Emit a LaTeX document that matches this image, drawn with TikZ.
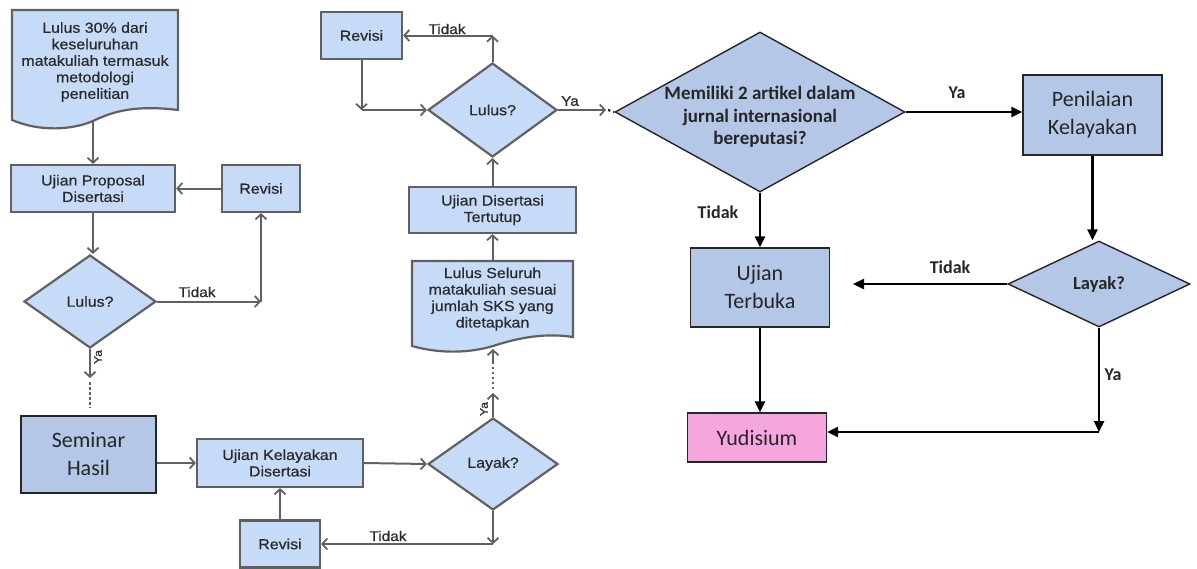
\documentclass[tikz,border=0pt]{standalone}
\usepackage{fontspec}
\setmainfont{Liberation Sans}
\newfontfamily\lf[FakeStretch=1.1,FakeBold=0.6]{Liberation Sans}
\newfontfamily\rf{Carlito}
\usetikzlibrary{shapes.geometric,arrows.meta,calc}
\definecolor{lfill}{HTML}{C6DBF7}
\definecolor{ldraw}{HTML}{616161}
\definecolor{ltext}{HTML}{2A2A2A}
\definecolor{rfill}{HTML}{B4C7E7}
\definecolor{rdraw}{HTML}{262626}
\definecolor{pinkfill}{HTML}{F5A6DF}
\tikzset{
  ltxt/.style={inner sep=0pt, text=ltext, font=\lf\fontsize{14.5}{16.5}\selectfont, align=center},
  lbox/.style={ltxt, draw=ldraw, fill=lfill, line width=2.2pt},
  ldia/.style={lbox, diamond, aspect=1.4},
  rbox/.style={draw=rdraw, fill=rfill, line width=1.4pt, inner sep=0pt, text=rdraw, font=\rf\fontsize{22}{28}\selectfont, align=center},
  rdia/.style={rbox, diamond, font=\rf\bfseries\fontsize{18.5}{22.5}\selectfont},
  bigtxt/.style={inner sep=0pt, text=rdraw, font=\rf\bfseries\fontsize{19}{22.5}\selectfont, align=center},
  la/.style={draw=ldraw, line width=2pt, -{Straight Barb[length=5pt,width=11pt,line width=1.8pt]}},
  ldot/.style={draw=ldraw, line width=2.6pt, dash pattern=on 2.5pt off 2.5pt},
  bdot/.style={draw=rdraw, line width=2.2pt, dash pattern=on 2.5pt off 3pt},
  ra/.style={draw=black, line width=2.4pt, -{Triangle[length=11pt,width=10pt]}},
  llab/.style={text=ltext, font=\lf\fontsize{14}{16}\selectfont, inner sep=0pt},
  slab/.style={text=ltext, font=\lf\fontsize{11}{12}\selectfont, inner sep=0pt},
  rlab/.style={text=rdraw, font=\rf\bfseries\fontsize{18}{20}\selectfont, inner sep=0pt},
}
\begin{document}
\begin{tikzpicture}[x=1pt,y=-1pt]
\useasboundingbox (0,0) rectangle (1197,568);

% document shapes
\filldraw[draw=ldraw, fill=lfill, line width=2.2pt] (12,10) -- (178,10) -- (178,110)
  .. controls (130,104) and (108,114) .. (93,121)
  .. controls (72,130) and (40,132) .. (12,120) -- cycle;
\node[ltxt, minimum width=166pt, minimum height=104pt] (doc1) at (95,62)
  {Lulus 30\% dari\\keseluruhan\\matakuliah termasuk\\metodologi\\penelitian};
\filldraw[draw=ldraw, fill=lfill, line width=2.2pt] (412,261) -- (573,261) -- (573,337)
  .. controls (540,332) and (512,340) .. (493,346)
  .. controls (470,353) and (440,354) .. (412,346) -- cycle;
\node[ltxt, minimum width=161pt, minimum height=76pt] (doc2) at (492.5,299)
  {Lulus Seluruh\\matakuliah sesuai\\jumlah SKS yang\\ditetapkan};

% left nodes
\node[lbox, minimum width=164pt, minimum height=47pt] (prop) at (93,188.5) {Ujian Proposal\\Disertasi};
\node[lbox, minimum width=78pt, minimum height=47pt] (rev1) at (261,188.5) {Revisi};
\node[ldia, minimum width=132pt, minimum height=93pt] (lul1) at (90,301.5) {Lulus?};
\node[rbox, minimum width=135pt, minimum height=77pt] (sem) at (88.5,454.5) {Seminar\\Hasil};
\node[lbox, minimum width=166pt, minimum height=48pt] (ukd) at (280,463) {Ujian Kelayakan\\Disertasi};
\node[ldia, minimum width=130pt, minimum height=92pt] (lay1) at (493,464) {Layak?};
\node[lbox, minimum width=80pt, minimum height=47pt] (rev2) at (280,544) {Revisi};
\node[lbox, minimum width=167pt, minimum height=46pt] (tert) at (492.5,210) {Ujian Disertasi\\Tertutup};
\node[ldia, minimum width=129pt, minimum height=94pt] (lul2) at (492.5,110) {Lulus?};
\node[lbox, minimum width=81pt, minimum height=47pt] (rev3) at (361.5,35.5) {Revisi};

% right nodes
\node[rdia, minimum width=290pt, minimum height=160pt] (big) at (760,112) {};
\node[bigtxt] (bigt) at ($(big.center)+(0,5)$) {Memiliki 2 artikel dalam\\jurnal internasional\\bereputasi?};
\node[rbox, minimum width=139pt, minimum height=80pt] (pen) at (1092.5,115) {Penilaian\\Kelayakan};
\node[rdia, minimum width=182pt, minimum height=86pt] (lay2) at (1099,284) {Layak?};
\node[rbox, minimum width=139pt, minimum height=79pt] (terb) at (760,287.5) {Ujian\\Terbuka};
\node[rbox, fill=pinkfill, minimum width=139pt, minimum height=49pt] (yud) at (757,437.5) {Yudisium};

% left connectors
\coordinate (d1b) at (93,122);
\draw[la] (d1b) -- (prop.north);
\draw[la] (rev1.west) -- (prop.east);
\draw[la] (prop.south) -- (prop.south |- lul1.north);
\coordinate (c1) at (rev1.south |- lul1.east);
\draw[la] (lul1.east) -- (c1);
\draw[la] (c1) -- (rev1.south);
\node[llab] (t1) at (197,292) {Tidak};
\coordinate (y1) at (90,378);
\coordinate (y1a) at (90,382);
\coordinate (y1b) at (90,408);
\draw[la] (lul1.south) -- (y1);
\node[slab, rotate=90] (ya1) at (98,357) {Ya};
\draw[ldot] (y1a) -- (y1b);
\draw[la] (sem.east |- ukd.west) -- (ukd.west);
\draw[la] (ukd.east) -- (lay1.west);
\coordinate (c2) at (lay1.south |- rev2.east);
\draw[la] (lay1.south) -- (c2);
\draw[la] (c2) -- (rev2.east);
\node[llab] (t2) at (388,536) {Tidak};
\draw[la] (rev2.north) -- (ukd.south);
\coordinate (c3) at (493,393);
\coordinate (c3b) at (493,389);
\coordinate (c4) at (493,363);
\coordinate (d2b) at (493,349);
\draw[la] (lay1.north) -- (c3);
\node[slab, rotate=90] (ya2) at (484,409) {Ya};
\draw[ldot] (c3b) -- (c4);
\draw[la] (c4) -- (d2b);
\draw[la] (doc2.north) -- (tert.south);
\draw[la] (tert.north) -- (lul2.south);
\coordinate (c5) at (lul2.north |- rev3.east);
\draw[la] (lul2.north) -- (c5);
\draw[la] (c5) -- (rev3.east);
\node[llab] (t3) at (447,29) {Tidak};
\coordinate (c6) at (rev3.south |- lul2.west);
\draw[la] (rev3.south) -- (c6);
\draw[la] (c6) -- (lul2.west);
\coordinate (c7) at (606,110);
\coordinate (c7b) at (608,110);
\draw[la] (lul2.east) -- (c7);
\node[llab] (ya3) at (570,101) {Ya};
\draw[bdot] (c7b) -- (big.west);

% right connectors
\draw[ra] (big.east) -- (big.east -| pen.west);
\node[rlab] (ya4) at (957,93) {Ya};
\draw[ra] (big.south) -- (big.south |- terb.north);
\node[rlab] (t4) at (718,212) {Tidak};
\draw[ra] (pen.south) -- (pen.south |- lay2.north);
\coordinate (tk) at (853,284);
\draw[ra] (lay2.west) -- (tk);
\node[rlab] (t5) at (950,267) {Tidak};
\draw[ra] (terb.south) -- (terb.south |- yud.north);
\coordinate (c8) at (1099,432);
\draw[ra] (lay2.south) -- (c8);
\draw[ra] (c8) -- (c8 -| yud.east);
\node[rlab] (ya5) at (1113,375) {Ya};
\end{tikzpicture}
\end{document}
